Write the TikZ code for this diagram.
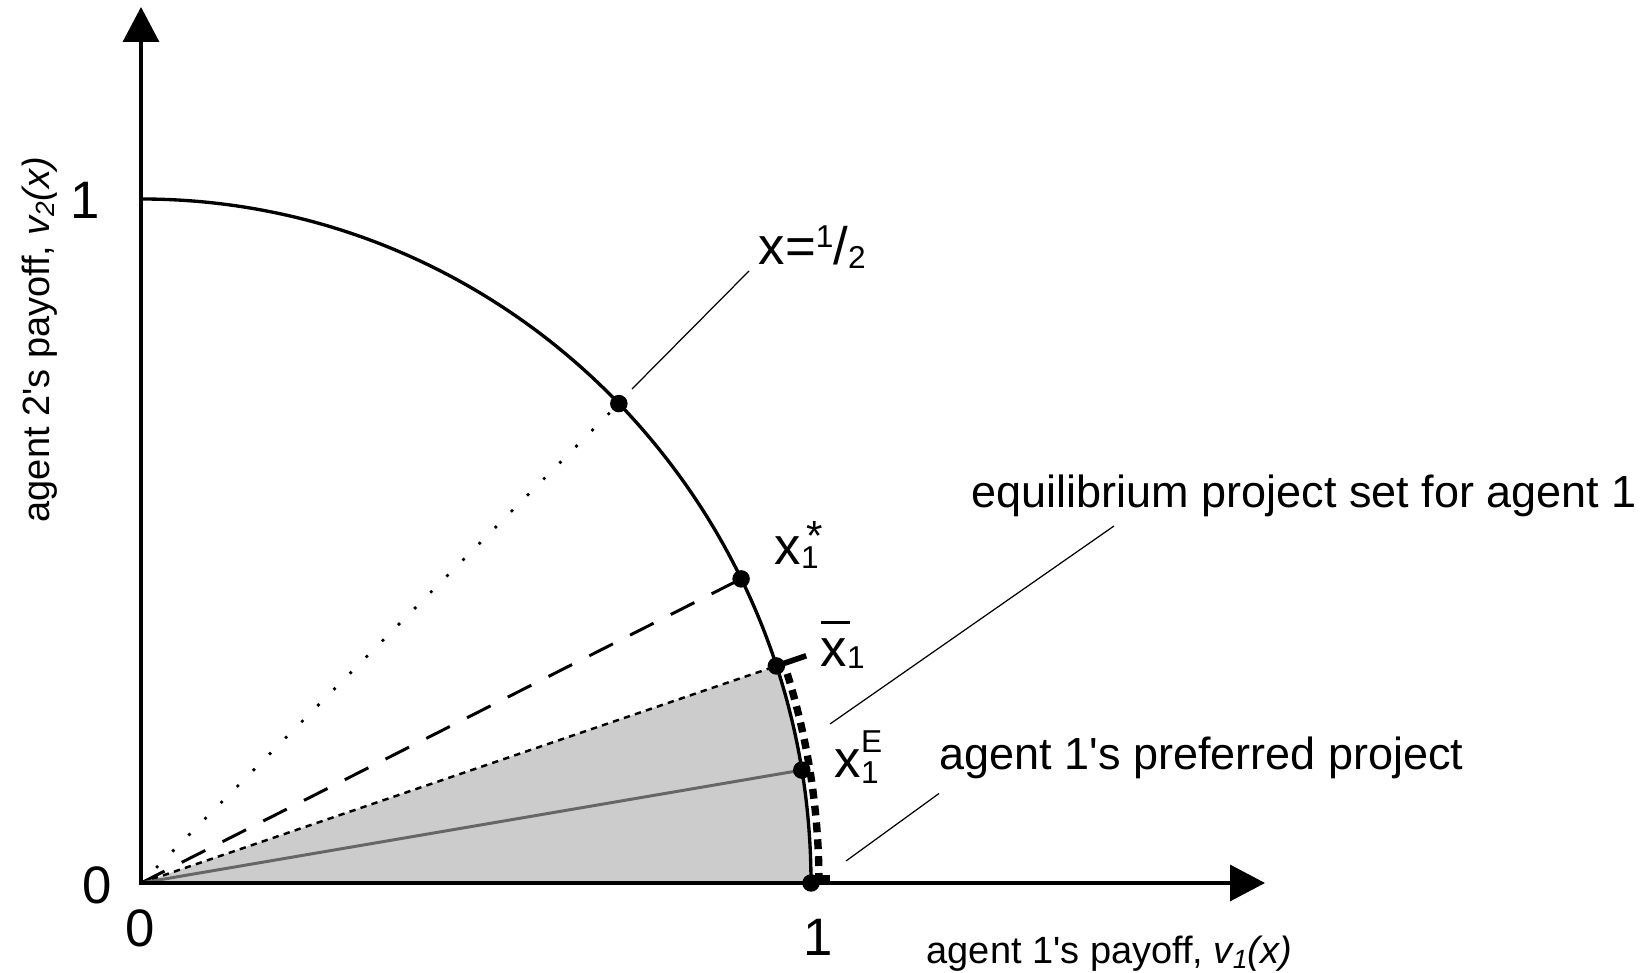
\documentclass[tikz,border=0pt]{standalone}
\usepackage{fontspec}
\setmainfont{Liberation Sans}
\usetikzlibrary{arrows.meta, positioning, calc}

\newcommand{\rx}{6.70}
\newcommand{\ry}{6.84}
\newcommand{\lbig}{\fontsize{15}{18}\selectfont}
\newcommand{\lmid}{\fontsize{12.8}{15}\selectfont}
\newcommand{\lsmall}{\fontsize{10.8}{13}\selectfont}
\newcommand{\lsub}{\fontsize{9}{10}\selectfont}
\newcommand{\apos}{\textquotesingle}
\newcommand{\xsubsup}[3]{x\rlap{\raisebox{-#3}{\lsub 1}}\raisebox{#2}{\lsub #1}}
\newcommand{\xstar}{x\rlap{\raisebox{-0.06em}{\lsub 1}}\hspace{0.1em}\raisebox{0.28em}{\fontsize{12}{13}\selectfont *}}
\newcommand{\xhalf}{x=\raisebox{0.33em}{\lsub 1}/\raisebox{-0.06em}{\lsub 2}}
\newcommand{\xupper}{\rlap{\rule[0.82em]{0.56em}{0.06em}}x\raisebox{-0.02em}{\lsub 1}}

\begin{document}
\begin{tikzpicture}[
  every node/.style={inner sep=0pt},
  axis/.style={line width=1pt, {Triangle[length=3.5mm, width=3.6mm]}-{Triangle[length=3.5mm, width=3.6mm]}},
  frontier/.style={line width=0.95pt},
  leader/.style={line width=0.35pt},
  pt/.style={circle, fill, inner sep=0pt, minimum size=1.75mm},
  setmark/.style={line width=2.1pt, dash pattern=on 2.8pt off 2pt}
]
  \useasboundingbox (-1.41,-0.90) rectangle (15.07,8.83);
  % parametric angles on the frontier
  \def\tHalf{44.5}
  \def\tStar{26.4}
  \def\tBar{18.5}
  \def\tE{9.5}
  \coordinate (O) at (0,0);
  \coordinate (ytip) at (0,8.76);
  \coordinate (xtip) at (11.24,0);
  \coordinate (top) at (0,\ry);
  \coordinate (one) at (\rx,0);
  \coordinate (half) at ({\rx*cos(\tHalf)},{\ry*sin(\tHalf)});
  \coordinate (star) at ({\rx*cos(\tStar)},{\ry*sin(\tStar)});
  \coordinate (bar) at ({\rx*cos(\tBar)},{\ry*sin(\tBar)});
  \coordinate (pref) at ({\rx*cos(\tE)},{\ry*sin(\tE)});

  % shaded set
  \fill[black!20] (O) -- (one) arc[start angle=0, end angle=\tBar, x radius=\rx, y radius=\ry] -- cycle;

  % rays
  \draw[line width=1.1pt, line cap=round, dash pattern=on 0pt off 6.5pt] (O) -- (half);
  \draw[line width=0.85pt, dash pattern=on 7.5pt off 5.5pt] (O) -- (star);
  \draw[line width=0.7pt, dash pattern=on 1.8pt off 1.5pt] (O) -- (bar);
  \draw[line width=0.85pt, black!60] (O) -- (pref);

  % frontier
  \draw[frontier] (top) arc[start angle=90, end angle=0, x radius=\rx, y radius=\ry];

  % equilibrium set bracket
  \draw[setmark] ({6.78*cos(17.6)},{6.92*sin(17.6)}) arc[start angle=17.6, end angle=0.3, x radius=6.78, y radius=6.92];
  \draw[line width=1.6pt] (bar) -- ($(O)!1.047!(bar)$);
  \draw[line width=2pt] (\rx,0.04) -- (6.89,0.04);

  % axes
  \draw[axis] (ytip) -- (O) -- (xtip);

  % points
  \node[pt] (dHalf) at (half) {};
  \node[pt] (dStar) at (star) {};
  \node[pt] (dBar) at (bar) {};
  \node[pt] (dPref) at (pref) {};
  \node[pt] (dOne) at (one) {};

  % ticks
  \node[font=\lbig] (zeroL) at (-0.435,-0.02) {0};
  \node[font=\lbig] (zeroB) at (-0.01,-0.45) {0};
  \node[font=\lbig] (oneB) at (6.77,-0.54) {1};
  \node[font=\lbig] (oneL) at (-0.56,6.83) {1};

  % axis labels
  \node[font=\lsmall, anchor=base west] (xlab) at (7.85,-0.81) {agent 1\apos s payoff, \textit{v\raisebox{-0.12em}{\fontsize{7.5}{9}\selectfont 1}(x)}};
  \node[font=\lsmall, anchor=base west, rotate=90] (ylab) at (-0.91,3.60) {agent 2\apos s payoff, \textit{v\raisebox{-0.12em}{\fontsize{7.5}{9}\selectfont 2}(x)}};

  % point labels
  \node[font=\lbig, anchor=base west] (lHalf) at (6.17,6.18) {\xhalf};
  \node[font=\lbig, anchor=base west] (lStar) at (6.33,3.18) {\xstar};
  \node[font=\lbig, anchor=base west] (lBar) at (6.79,2.16) {\xupper};
  \node[font=\lbig, anchor=base west] (lPref) at (6.93,1.05) {\xsubsup{E}{0.48em}{0.1em}};

  % set labels
  \node[font=\lmid, anchor=base west] (lSet) at (8.30,3.75) {equilibrium project set for agent 1};
  \node[font=\lmid, anchor=base west] (lPrefd) at (7.98,1.13) {agent 1\apos s preferred project};

  % leaders
  \coordinate (hA) at (4.91,4.94);
  \coordinate (hB) at (6.08,6.12);
  \coordinate (sA) at (6.89,1.59);
  \coordinate (sB) at (9.73,3.57);
  \coordinate (pA) at (7.05,0.22);
  \coordinate (pB) at (7.98,0.895);
  \draw[leader] (hA) -- (hB);
  \draw[leader] (sA) -- (sB);
  \draw[leader] (pA) -- (pB);
\end{tikzpicture}
\end{document}
